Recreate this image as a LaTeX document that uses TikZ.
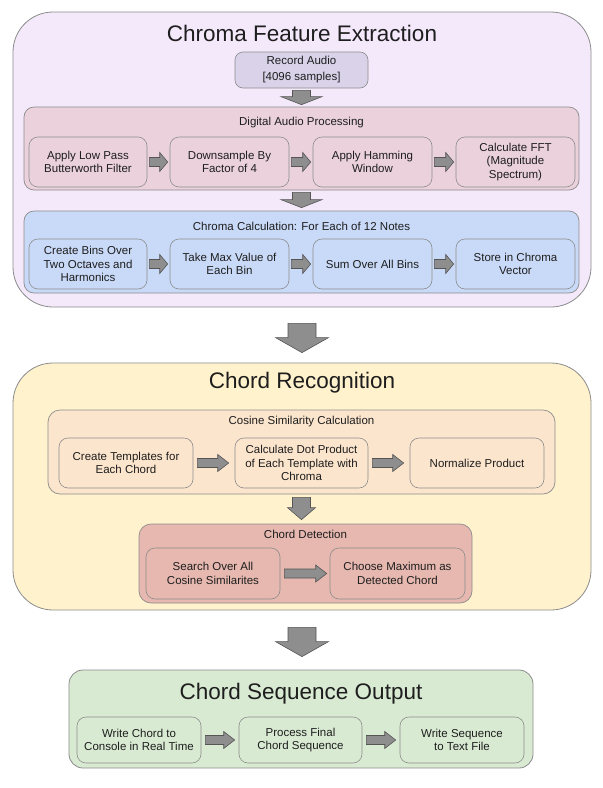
\documentclass[tikz,border=0pt]{standalone}
\usepackage{fontspec}
\setmainfont{Liberation Sans}
\usetikzlibrary{calc}
\definecolor{lav}{HTML}{F4E9FB}
\definecolor{rec}{HTML}{D9D2E9}
\definecolor{pinkb}{HTML}{EAD1DC}
\definecolor{blueb}{HTML}{C9DAF8}
\definecolor{yel}{HTML}{FFF2CC}
\definecolor{orng}{HTML}{FCE5CD}
\definecolor{redb}{HTML}{E6B8AF}
\definecolor{grn}{HTML}{D9EAD3}
\definecolor{bord}{HTML}{8C8C8C}
\definecolor{txt}{HTML}{1E1E1E}
\definecolor{arrf}{HTML}{8E8E8E}
\definecolor{arrd}{HTML}{555555}
\tikzset{
  section/.style={draw=bord, line width=0.8pt, rounded corners=#1, inner sep=0pt},
  group/.style={draw=bord, line width=0.7pt, rounded corners=10pt, inner sep=0pt},
  stepbox/.style={draw=bord, line width=0.6pt, rounded corners=9pt, inner sep=0pt, align=center,
     font=\fontsize{11.5}{13.5}\selectfont, text=txt},
  bigtitle/.style={font=\fontsize{22.5}{26}\selectfont, text=txt},
  grouplabel/.style={font=\fontsize{11.5}{13.5}\selectfont, text=txt},
  blockarr/.style={fill=arrf, draw=arrd, line width=0.6pt, line join=miter},
}
% vertical block arrow: from, to, gap start, gap end, stem half, head half, head length
\newcommand\varrow[7]{%
  \path[blockarr] let \p1=(#1.south), \p2=(#2.north) in
  ({\x1-#5},{\y1-#3}) -- ({\x1+#5},{\y1-#3}) -- ({\x1+#5},{\y2+#4+#7}) -- ({\x1+#6},{\y2+#4+#7})
  -- ({\x1},{\y2+#4}) -- ({\x1-#6},{\y2+#4+#7}) -- ({\x1-#5},{\y2+#4+#7}) -- cycle;}
% horizontal block arrow
\newcommand\harrow[7]{%
  \path[blockarr] let \p1=(#1.east), \p2=(#2.west) in
  ({\x1+#3},{\y1-#5}) -- ({\x2-#4-#7},{\y1-#5}) -- ({\x2-#4-#7},{\y1-#6}) -- ({\x2-#4},{\y1})
  -- ({\x2-#4-#7},{\y1+#6}) -- ({\x2-#4-#7},{\y1+#5}) -- ({\x1+#3},{\y1+#5}) -- cycle;}
\begin{document}
\begin{tikzpicture}[x=1pt,y=-1pt]
\useasboundingbox[fill=white] (0,0) rectangle (603,788);

% ---------- Section 1 ----------
\node[section=40pt, fill=lav, minimum width=578pt, minimum height=295pt] (s1) at (302,159.5) {};
\node[bigtitle] (t1) at (302,33) {Chroma Feature Extraction};
\node[stepbox, fill=rec, rounded corners=8pt, minimum width=133pt, minimum height=36pt,
      font=\fontsize{11.5}{16}\selectfont] (rec) at (301.5,70) {Record Audio\\{[}4096 samples{]}};

\node[group, fill=pinkb, minimum width=555pt, minimum height=83pt] (dap) at (301.5,148.5) {};
\node[grouplabel] (dapl) at (301.5,123) {Digital Audio Processing};
\node[stepbox, fill=pinkb, minimum width=118pt, minimum height=50pt] (d1) at (88,162) {Apply Low Pass\\Butterworth Filter};
\node[stepbox, fill=pinkb, minimum width=119pt, minimum height=50pt] (d2) at (229.5,162) {Downsample By\\Factor of 4};
\node[stepbox, fill=pinkb, minimum width=119pt, minimum height=50pt] (d3) at (372.5,162) {Apply Hamming\\Window};
\node[stepbox, fill=pinkb, minimum width=119pt, minimum height=50pt] (d4) at (515.5,162) {Calculate FFT\\(Magnitude\\Spectrum)};

\node[group, fill=blueb, minimum width=555pt, minimum height=82pt] (cc) at (301.5,252) {};
\node[grouplabel] (ccl) at (301.5,226) {Chroma Calculation: For Each of 12 Notes};
\node[stepbox, fill=blueb, minimum width=118pt, minimum height=50pt] (c1) at (88,264) {Create Bins Over\\Two Octaves and\\Harmonics};
\node[stepbox, fill=blueb, minimum width=119pt, minimum height=50pt] (c2) at (229.5,264) {Take Max Value of\\Each Bin};
\node[stepbox, fill=blueb, minimum width=119pt, minimum height=50pt] (c3) at (372.5,264) {Sum Over All Bins};
\node[stepbox, fill=blueb, minimum width=119pt, minimum height=50pt] (c4) at (515.5,264) {Store in Chroma\\Vector};

\varrow{rec}{dap}{2pt}{2pt}{9pt}{20.5pt}{8pt}
\varrow{dap}{cc}{2pt}{3pt}{9pt}{20.5pt}{8pt}
\harrow{d1}{d2}{2pt}{2pt}{4.5pt}{9.5pt}{8pt}
\harrow{d2}{d3}{2pt}{2pt}{4.5pt}{9.5pt}{8pt}
\harrow{d3}{d4}{2pt}{2pt}{4.5pt}{9.5pt}{8pt}
\harrow{c1}{c2}{2pt}{2pt}{4.5pt}{9.5pt}{8pt}
\harrow{c2}{c3}{2pt}{2pt}{4.5pt}{9.5pt}{8pt}
\harrow{c3}{c4}{2pt}{2pt}{4.5pt}{9.5pt}{8pt}

% ---------- Section 2 ----------
\node[section=40pt, fill=yel, minimum width=578pt, minimum height=247pt] (s2) at (302,486.5) {};
\node[bigtitle] (t2) at (302,383) {Chord Recognition};

\node[group, fill=orng, rounded corners=12pt, minimum width=507pt, minimum height=84pt] (cos) at (301.5,452) {};
\node[grouplabel] (cosl) at (301.5,422) {Cosine Similarity Calculation};
\node[stepbox, fill=orng, minimum width=134pt, minimum height=50pt] (k1) at (126,463) {Create Templates for\\Each Chord};
\node[stepbox, fill=orng, minimum width=133pt, minimum height=50pt] (k2) at (301.5,463) {Calculate Dot Product\\of Each Template with\\Chroma};
\node[stepbox, fill=orng, minimum width=134pt, minimum height=50pt] (k3) at (477,463) {Normalize Product};

\node[group, fill=redb, rounded corners=12pt, minimum width=333pt, minimum height=79pt] (det) at (305.5,563.5) {};
\node[grouplabel] (detl) at (305.5,534) {Chord Detection};
\node[stepbox, fill=redb, minimum width=134pt, minimum height=51pt] (e1) at (213,573.5) {Search Over All\\Cosine Similarites};
\node[stepbox, fill=redb, minimum width=135pt, minimum height=51pt] (e2) at (397.5,573.5) {Choose Maximum as\\Detected Chord};

\harrow{k1}{k2}{4pt}{6pt}{4.5pt}{8.5pt}{11pt}
\harrow{k2}{k3}{4pt}{6pt}{4.5pt}{8.5pt}{11pt}
\harrow{e1}{e2}{4pt}{3pt}{4.5pt}{8.5pt}{11pt}
\varrow{cos}{det}{3pt}{4pt}{9pt}{14pt}{12pt}

% ---------- Section 3 ----------
\node[section=14pt, fill=grn, minimum width=464pt, minimum height=98pt] (s3) at (301,719) {};
\node[bigtitle] (t3) at (301,694) {Chord Sequence Output};
\node[stepbox, fill=grn, minimum width=124pt, minimum height=46pt] (g1) at (139,740) {Write Chord to\\Console in Real Time};
\node[stepbox, fill=grn, minimum width=123pt, minimum height=46pt] (g2) at (300.5,740) {Process Final\\Chord Sequence};
\node[stepbox, fill=grn, minimum width=124pt, minimum height=46pt] (g3) at (462,740) {Write Sequence\\to Text File};
\harrow{g1}{g2}{4pt}{4pt}{4.5pt}{8.5pt}{11pt}
\harrow{g2}{g3}{4pt}{4pt}{4.5pt}{8.5pt}{11pt}

% ---------- Between sections ----------
\varrow{s1}{s2}{16pt}{10pt}{14pt}{26.5pt}{15pt}
\varrow{s2}{s3}{17pt}{13pt}{14pt}{26.5pt}{15pt}
\end{tikzpicture}
\end{document}
